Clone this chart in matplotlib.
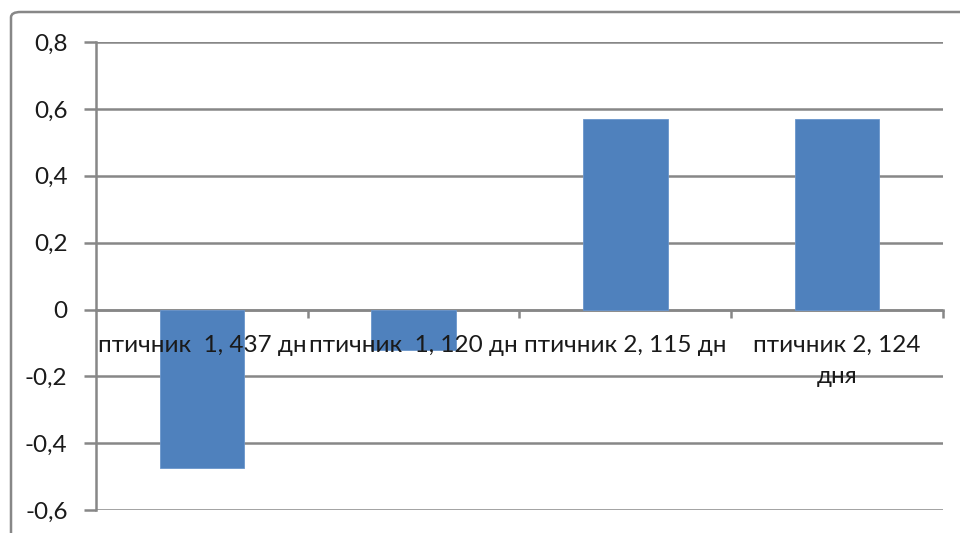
import matplotlib
matplotlib.use("Agg")
import matplotlib.pyplot as plt
from matplotlib.patches import FancyBboxPatch
from matplotlib.transforms import offset_copy

# data
categories = ["птичник  1, 437 дн", "птичник  1, 120 дн", "птичник 2, 115 дн", "птичник 2, 124\nдня"]
values = [-0.475, -0.12, 0.57, 0.57]
yticks = [-0.6, -0.4, -0.2, 0, 0.2, 0.4, 0.6, 0.8]
ytick_labels = ["-0,6", "-0,4", "-0,2", "0", "0,2", "0,4", "0,6", "0,8"]

plt.rcParams['font.family'] = ['Lato', 'DejaVu Sans']
grey = "#878787"
txt = "#1a1a1a"

fig = plt.figure(figsize=(9.6, 5.33), dpi=100)
ax = fig.add_axes([0.1, 0.043, 0.882, 0.878])

x = range(len(categories))
ax.bar(x, values, width=0.4, color="#4f81bd", edgecolor="#6a96cc", linewidth=0.6, zorder=2)

ax.set_xlim(-0.5, len(categories) - 0.5)
ax.set_ylim(-0.6, 0.8)
ax.set_yticks(yticks)
ax.set_yticklabels(ytick_labels, fontsize=17.5, color=txt)
ax.yaxis.grid(True, color=grey, linewidth=1.8)
ax.set_axisbelow(True)

for s in ["top", "right"]:
    ax.spines[s].set_visible(False)
ax.spines["left"].set_color(grey)
ax.spines["left"].set_linewidth(1.8)
ax.spines["bottom"].set_position(("data", 0))
ax.spines["bottom"].set_color(grey)
ax.spines["bottom"].set_linewidth(1.8)
ax.spines["bottom"].set_zorder(0.5)
ax.spines["left"].set_zorder(0.5)

ax.tick_params(axis="y", length=9, width=1.8, color=grey, pad=11.5)
ax.set_xticks([0.5, 1.5, 2.5, 3.5])
ax.set_xticklabels([])
ax.tick_params(axis="x", length=6, width=1.8, color=grey, direction="out")

# category labels sit just under the zero line, drawn over the bars
lab_tr = offset_copy(ax.transData, fig=fig, x=0, y=-18, units="points")
for i, lab in enumerate(categories):
    ax.text(i, 0, lab, ha="center", va="top", fontsize=17.5, color=txt,
            transform=lab_tr, zorder=5, linespacing=1.6)

# outer chart-area frame (runs off the right and bottom edges)
frame = FancyBboxPatch((11 / 960, -0.1), 1.2, (533 - 12) / 533 + 0.1,
                       boxstyle="round,pad=0,rounding_size=0.01",
                       transform=fig.transFigure, fill=False,
                       edgecolor=grey, linewidth=1.8)
fig.patches.append(frame)

fig.savefig("out.png", dpi=100)
